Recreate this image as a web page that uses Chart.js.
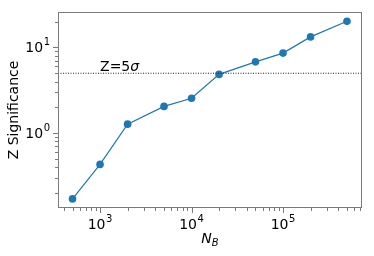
<!DOCTYPE html>
<html>
<head>
<meta charset="utf-8">
<script src="https://cdn.jsdelivr.net/npm/chart.js@4/dist/chart.umd.min.js"></script>
<style>
  html, body { margin: 0; padding: 0; background: #fff; }
  #wrap { width: 374px; height: 256px; }
</style>
</head>
<body>
<div id="wrap"><canvas id="chart" width="374" height="256"></canvas></div>
<script>
// data
const nB = [500, 1000, 2000, 5000, 10000, 20000, 50000, 100000, 200000, 500000];
const zSig = [0.17, 0.43, 1.27, 2.05, 2.55, 4.85, 6.8, 8.6, 13.3, 20.3];
const zLine = 5;

// tick labels are 10^exp
const xExps = [3, 4, 5];
const yExps = [0, 1];

const xRange = [347, 730000];
const yRange = [0.133, 26];

const FONT = '"DejaVu Sans", sans-serif';
const BLUE = '#1f77b4';
const FRAME = '#7a7a7a';

// minor + major positions for a log axis
function decadeTicks(min, max) {
  const out = [];
  for (let e = Math.floor(Math.log10(min)); e <= Math.ceil(Math.log10(max)); e++) {
    for (let m = 1; m <= 9; m++) {
      const v = m * Math.pow(10, e);
      if (v >= min && v <= max) out.push({ v, major: m === 1 });
    }
  }
  return out;
}

// draws "10" with a superscript exponent; align = 'center' or 'right'
function drawPow(ctx, exp, x, base, align) {
  ctx.font = '14px ' + FONT;
  const w1 = ctx.measureText('10').width;
  ctx.font = '10px ' + FONT;
  const w2 = ctx.measureText(String(exp)).width;
  const total = w1 + w2 + 0.5;
  let left = align === 'right' ? x - total : x - total / 2;
  ctx.textAlign = 'left';
  ctx.textBaseline = 'alphabetic';
  ctx.font = '14px ' + FONT;
  ctx.fillText('10', left, base);
  ctx.font = '10px ' + FONT;
  ctx.fillText(String(exp), left + w1 + 0.5, base - 7);
}

const axesPlugin = {
  id: 'axesPlugin',
  afterDraw(chart) {
    const { ctx, chartArea: a, scales: { x, y } } = chart;
    ctx.save();
    ctx.fillStyle = '#000';
    ctx.strokeStyle = FRAME;
    ctx.lineWidth = 1;
    ctx.strokeRect(a.left + 0.5, a.top + 0.5, a.right - a.left - 1, a.bottom - a.top - 1);

    // tick marks
    ctx.beginPath();
    decadeTicks(xRange[0], xRange[1]).forEach(t => {
      const px = Math.round(x.getPixelForValue(t.v)) + 0.5;
      ctx.moveTo(px, a.bottom);
      ctx.lineTo(px, a.bottom + (t.major ? 5 : 3));
    });
    decadeTicks(yRange[0], yRange[1]).forEach(t => {
      const py = Math.round(y.getPixelForValue(t.v)) + 0.5;
      ctx.moveTo(a.left, py);
      ctx.lineTo(a.left - (t.major ? 5 : 3), py);
    });
    ctx.stroke();

    // tick labels
    xExps.forEach(e => drawPow(ctx, e, x.getPixelForValue(Math.pow(10, e)), a.bottom + 21, 'center'));
    yExps.forEach(e => drawPow(ctx, e, a.left - 8, y.getPixelForValue(Math.pow(10, e)) + 5, 'right'));

    // x title: N_B
    ctx.font = 'italic 14px ' + FONT;
    const wN = ctx.measureText('N').width;
    ctx.font = 'italic 10px ' + FONT;
    const wB = ctx.measureText('B').width;
    const cx = (a.left + a.right) / 2;
    let lx = cx - (wN + wB) / 2;
    ctx.font = 'italic 14px ' + FONT;
    ctx.fillText('N', lx, a.bottom + 35);
    ctx.font = 'italic 10px ' + FONT;
    ctx.fillText('B', lx + wN, a.bottom + 38);

    // y title
    ctx.save();
    ctx.translate(18, (a.top + a.bottom) / 2);
    ctx.rotate(-Math.PI / 2);
    ctx.textAlign = 'center';
    ctx.font = '14px ' + FONT;
    ctx.fillText('Z Significance', 0, 0);
    ctx.restore();

    // annotation
    const tx = x.getPixelForValue(1000);
    const ty = y.getPixelForValue(5.3);
    ctx.textAlign = 'left';
    ctx.font = '14px ' + FONT;
    ctx.fillText('Z=5', tx, ty);
    const w5 = ctx.measureText('Z=5').width;
    ctx.font = 'italic 14px ' + FONT;
    ctx.fillText('\u03c3', tx + w5, ty);
    ctx.restore();
  }
};

new Chart(document.getElementById('chart'), {
  type: 'line',
  data: {
    datasets: [
      {
        data: [{ x: xRange[0], y: zLine }, { x: xRange[1], y: zLine }],
        borderColor: '#222',
        borderWidth: 1,
        borderDash: [1, 1.5],
        pointRadius: 0
      },
      {
        data: nB.map((v, i) => ({ x: v, y: zSig[i] })),
        borderColor: BLUE,
        backgroundColor: BLUE,
        borderWidth: 1.2,
        pointRadius: 3.8,
        pointBorderWidth: 0,
        tension: 0
      }
    ]
  },
  options: {
    responsive: false,
    animation: false,
    layout: { padding: { left: 58, right: 12, top: 12, bottom: 48 } },
    plugins: { legend: { display: false }, tooltip: { enabled: false } },
    scales: {
      x: { type: 'logarithmic', min: xRange[0], max: xRange[1], display: false },
      y: { type: 'logarithmic', min: yRange[0], max: yRange[1], display: false }
    }
  },
  plugins: [axesPlugin]
});
</script>
</body>
</html>
